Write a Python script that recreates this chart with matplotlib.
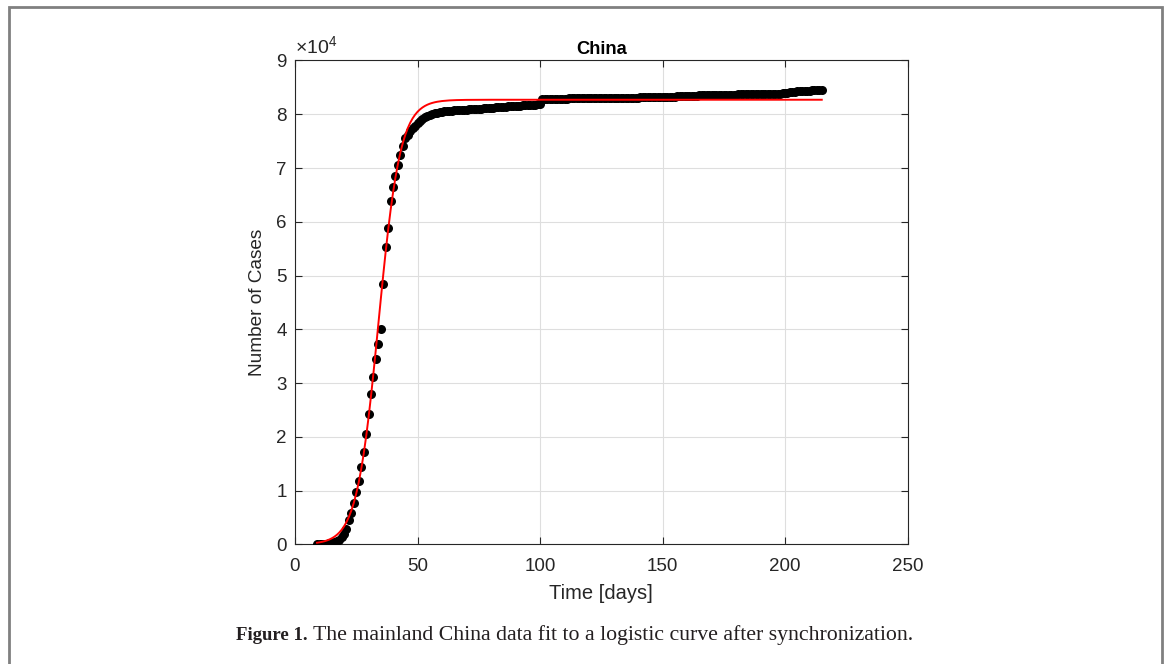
import numpy as np
import matplotlib
matplotlib.use("Agg")
import matplotlib.pyplot as plt
from matplotlib.patches import Rectangle
from matplotlib.ticker import FuncFormatter

# cumulative confirmed cases, one point per day (days 9..215)
days = np.arange(9, 216)
cases = [
    40, 40, 50, 60, 120, 200, 290, 440, 570, 830, 1290, 1980,
    2790, 4460, 5880, 7740, 9770, 11810, 14380, 17170, 20460, 24290,
    28010, 31120, 34520, 37200, 40100, 48360, 55250, 58780, 63860, 66460,
    68510, 70550, 72410, 74140, 75500, 76200, 76800, 77400, 77900, 78400,
    78800, 79100, 79400, 79700, 79900, 80100, 80200, 80300, 80400, 80500,
    80550, 80600, 80600, 80650, 80700, 80700, 80750, 80800, 80800, 80850,
    80900, 80900, 80950, 81000, 81000, 81050, 81100, 81150, 81200, 81200,
    81250, 81300, 81300, 81350, 81400, 81400, 81450, 81500, 81500, 81550,
    81600, 81600, 81650, 81700, 81700, 81750, 81800, 81800, 81850, 81900,
    82800, 82850, 82850, 82850, 82900, 82900, 82900, 82900, 82900, 82900,
    82900, 82950, 82950, 82950, 82950, 82950, 82950, 82950, 83000, 83000,
    83000, 83000, 83000, 83000, 83000, 83050, 83050, 83050, 83050, 83050,
    83050, 83050, 83100, 83100, 83100, 83100, 83100, 83100, 83100, 83100,
    83150, 83150, 83150, 83150, 83150, 83200, 83200, 83200, 83200, 83250,
    83250, 83250, 83300, 83300, 83300, 83350, 83350, 83350, 83400, 83400,
    83400, 83450, 83450, 83450, 83500, 83500, 83500, 83500, 83550, 83550,
    83550, 83550, 83600, 83600, 83600, 83600, 83650, 83650, 83650, 83650,
    83700, 83700, 83700, 83700, 83700, 83750, 83750, 83750, 83750, 83750,
    83800, 83800, 83800, 83800, 83800, 83850, 83850, 83850, 83900, 83950,
    84000, 84100, 84150, 84200, 84250, 84300, 84350, 84350, 84400, 84400,
    84450, 84450, 84500, 84500, 84500,
]

# logistic fit (red curve)
fit_days = [9, 10, 11, 12, 13, 14, 15, 16, 17, 18, 19, 20, 21, 22, 23, 24, 25,
            26, 27, 28, 29, 30, 31, 32, 33, 34, 35, 36, 37, 38, 39, 40, 41, 42,
            43, 44, 45, 46, 47, 48, 49, 50, 51, 52, 53, 54, 55, 56, 57, 58, 60,
            63, 66, 70, 80, 215]
fit_cases = [291, 364, 455, 569, 711, 889, 1110, 1385, 1727, 2151, 2677, 3325,
             4123, 5099, 6289, 7726, 9453, 11505, 13920, 16722, 19927, 23521,
             27485, 31759, 36256, 40884, 45525, 50057, 54382, 58414, 62091,
             65370, 68250, 70740, 72864, 74652, 76144, 77384, 78397, 79227,
             79903, 80452, 80895, 81252, 81540, 81771, 81957, 82105, 82224,
             82320, 82457, 82576, 82637, 82674, 82697, 82700]

x_ticks = [0, 50, 100, 150, 200, 250]
y_ticks = [0, 1e4, 2e4, 3e4, 4e4, 5e4, 6e4, 7e4, 8e4, 9e4]

plt.rcParams["font.family"] = ["Liberation Sans", "DejaVu Sans"]
plt.rcParams["mathtext.fontset"] = "custom"
plt.rcParams["mathtext.rm"] = "Liberation Sans"
plt.rcParams["mathtext.it"] = "Liberation Sans:italic"

TXT = "#262626"
W, H = 1167, 664

fig = plt.figure(figsize=(W / 100, H / 100), dpi=100)
ax = fig.add_axes([295 / W, 1 - 544.3 / H, (907.5 - 295) / W, (544.3 - 60.5) / H])

ax.plot(days, cases, "o", color="black", markersize=6.5, markeredgewidth=0, zorder=3)
ax.plot(fit_days, fit_cases, color="red", linewidth=1.4, zorder=4)

ax.set_xlim(0, 250)
ax.set_ylim(0, 9e4)
ax.set_xticks(x_ticks)
ax.set_yticks(y_ticks)
ax.yaxis.set_major_formatter(FuncFormatter(lambda v, _: f"{v / 1e4:g}"))
ax.tick_params(direction="in", length=5, width=0.8, colors=TXT, labelsize=13.5,
               top=True, right=True)
ax.tick_params(axis="x", pad=10)
ax.tick_params(axis="y", pad=6)
ax.grid(True, color="#dedede", linewidth=0.8)
ax.set_axisbelow(True)
for s in ax.spines.values():
    s.set_color(TXT)
    s.set_linewidth(0.8)

ax.set_xlabel("Time [days]", fontsize=14.5, color=TXT, labelpad=6)
ax.set_ylabel("Number of Cases", fontsize=13.7, color=TXT, labelpad=7)
ax.set_title("China", fontsize=13.2, fontweight="bold", color="black", pad=5)
ax.text(0.0, 1.006, r"$\times\mathregular{10^{4}}$", transform=ax.transAxes,
        fontsize=14, color=TXT, ha="left", va="bottom")

# frame around the figure panel
fig.patches.append(Rectangle((8.5 / W, -0.1), (1161.5 - 8.5) / W, 1.1 - 7 / H,
                             transform=fig.transFigure, fill=False,
                             edgecolor="#808080", linewidth=2, clip_on=False))

cap_y = 1 - 635 / H
fig.text(236 / W, cap_y, "Figure 1.", fontsize=13.5, fontweight="bold",
         family=["Liberation Serif"], color="#231f20", ha="left", va="center")
fig.text(313 / W, cap_y,
         "The mainland China data fit to a logistic curve after synchronization.",
         fontsize=15.7, family=["Liberation Serif"], color="#231f20",
         ha="left", va="center")

fig.savefig("out.png", dpi=100)
